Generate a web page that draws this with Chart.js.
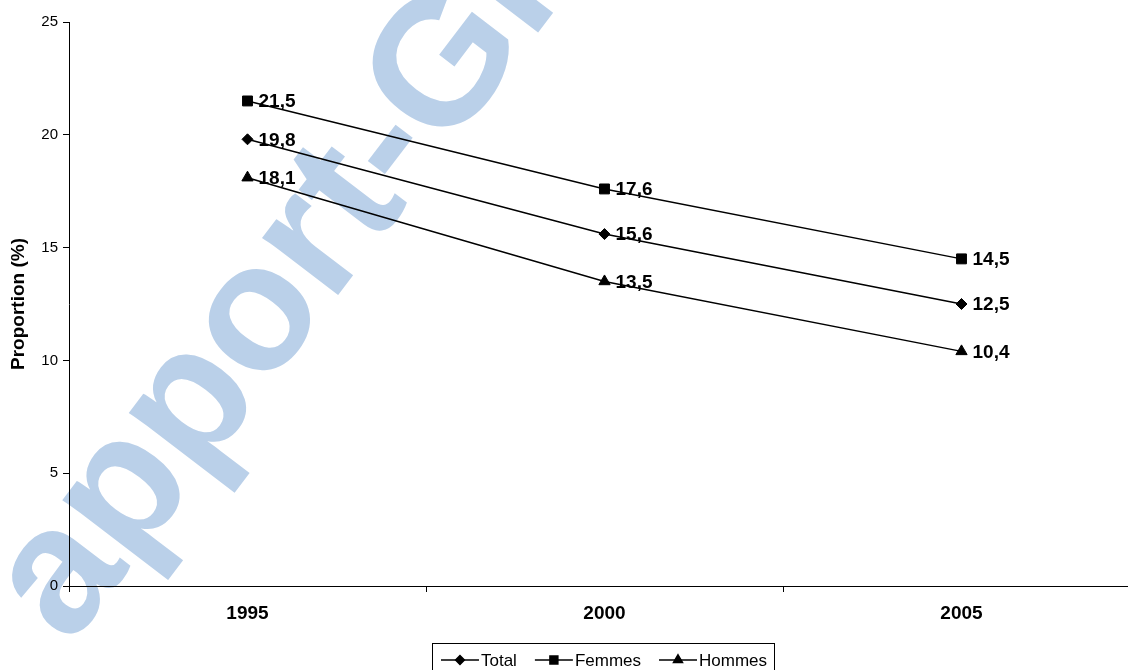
<!DOCTYPE html>
<html>
<head>
<meta charset="utf-8">
<script src="https://cdn.jsdelivr.net/npm/chart.js@4/dist/chart.umd.min.js"></script>
<style>
	html, body { margin: 0; padding: 0; background: #fff; overflow: hidden; }
	#wrap { width: 1150px; height: 670px; }
</style>
</head>
<body>
<div id="wrap"><canvas id="myChart"></canvas></div>
<script>
	const years = ['1995', '2000', '2005'];
	const total = [19.8, 15.6, 12.5];
	const femmes = [21.5, 17.6, 14.5];
	const hommes = [18.1, 13.5, 10.4];
	const yTicks = [0, 5, 10, 15, 20, 25];

	const FONT = 'Arial, "Liberation Sans", sans-serif';

	// faint watermark behind the plot
	const watermark = {
		id: 'watermark',
		beforeDraw(chart) {
			const ctx = chart.ctx;
			ctx.save();
			ctx.translate(70, 647);
			ctx.rotate(-52.7 * Math.PI / 180);
			ctx.font = 'bold 180px ' + FONT;
			ctx.fillStyle = 'rgb(186,208,233)';
			ctx.textBaseline = 'alphabetic';
			ctx.fillText('apport-Gr', 0, 0);
			ctx.restore();
		}
	};

	// value labels right of each point, french decimal comma
	const valueLabels = {
		id: 'valueLabels',
		afterDatasetsDraw(chart) {
			const ctx = chart.ctx;
			ctx.save();
			ctx.font = 'bold 19px ' + FONT;
			ctx.fillStyle = '#000';
			ctx.textAlign = 'left';
			ctx.textBaseline = 'middle';
			chart.data.datasets.forEach((ds, i) => {
				chart.getDatasetMeta(i).data.forEach((pt, j) => {
					ctx.fillText(ds.data[j].toFixed(1).replace('.', ','), pt.x + 11, pt.y + 1);
				});
			});
			ctx.restore();
		}
	};

	// boxed legend with line + marker samples
	const boxLegend = {
		id: 'boxLegend',
		afterDraw(chart) {
			const ctx = chart.ctx;
			const cy = 660;
			const lineLen = 38;
			const gap = 18;
			ctx.save();
			ctx.font = '17px ' + FONT;
			const items = chart.data.datasets.map(ds => ({ ds: ds, w: ctx.measureText(ds.label).width }));
			let width = 0;
			items.forEach(it => { width += lineLen + 2 + it.w; });
			width += gap * (items.length - 1);
			let x = 604 - width / 2;
			ctx.strokeStyle = '#000';
			ctx.lineWidth = 1;
			ctx.strokeRect(432.5, 643.5, 342, 40);
			items.forEach(it => {
				ctx.beginPath();
				ctx.moveTo(x, cy);
				ctx.lineTo(x + lineLen, cy);
				ctx.lineWidth = 1.5;
				ctx.stroke();
				Chart.helpers.drawPoint(ctx, {
					pointStyle: it.ds.pointStyle,
					radius: it.ds.pointRadius * 0.8,
					borderWidth: 1,
					rotation: 0
				}, x + lineLen / 2, cy);
				ctx.fillStyle = '#000';
				ctx.fill();
				ctx.textAlign = 'left';
				ctx.textBaseline = 'middle';
				ctx.fillText(it.ds.label, x + lineLen + 2, cy + 1);
				x += lineLen + 2 + it.w + gap;
			});
			ctx.restore();
		}
	};

	const series = [
		{ label: 'Total', data: total, pointStyle: 'rectRot', pointRadius: 5.5 },
		{ label: 'Femmes', data: femmes, pointStyle: 'rect', pointRadius: 7 },
		{ label: 'Hommes', data: hommes, pointStyle: 'triangle', pointRadius: 6.5 }
	];

	const ctx = document.getElementById('myChart');
	const myChart = new Chart(ctx, {
		type: 'line',
		data: {
			labels: years,
			datasets: series.map(s => ({
				label: s.label,
				data: s.data,
				pointStyle: s.pointStyle,
				pointRadius: s.pointRadius,
				pointHoverRadius: s.pointRadius,
				borderColor: '#000',
				backgroundColor: '#000',
				pointBackgroundColor: '#000',
				pointBorderColor: '#000',
				pointBorderWidth: 1,
				borderWidth: 1.5,
				tension: 0
			}))
		},
		options: {
			responsive: true,
			maintainAspectRatio: false,
			animation: false,
			layout: { padding: { left: 0, top: 22, right: 10, bottom: 0 } },
			plugins: {
				legend: { display: false },
				tooltip: { enabled: false }
			},
			scales: {
				x: {
					offset: true,
					grid: { offset: true, drawOnChartArea: false, tickLength: 6, color: '#000' },
					border: { color: '#000', width: 1 },
					ticks: { color: '#000', font: { family: FONT, size: 19, weight: 'bold' }, padding: 10 },
					afterFit(scale) { scale.height = 84; }
				},
				y: {
					min: 0,
					max: 25,
					afterBuildTicks(scale) { scale.ticks = yTicks.map(v => ({ value: v })); },
					grid: { drawOnChartArea: false, tickLength: 6, color: '#000' },
					border: { color: '#000', width: 1 },
					ticks: { color: '#000', font: { family: FONT, size: 15 }, padding: 5 },
					title: {
						display: true,
						text: 'Proportion (%)',
						color: '#000',
						font: { family: FONT, size: 19, weight: 'bold' },
						padding: { top: 7, bottom: 0 }
					},
					afterFit(scale) { scale.width = 69; }
				}
			}
		},
		plugins: [watermark, valueLabels, boxLegend]
	});
</script>
</body>
</html>
